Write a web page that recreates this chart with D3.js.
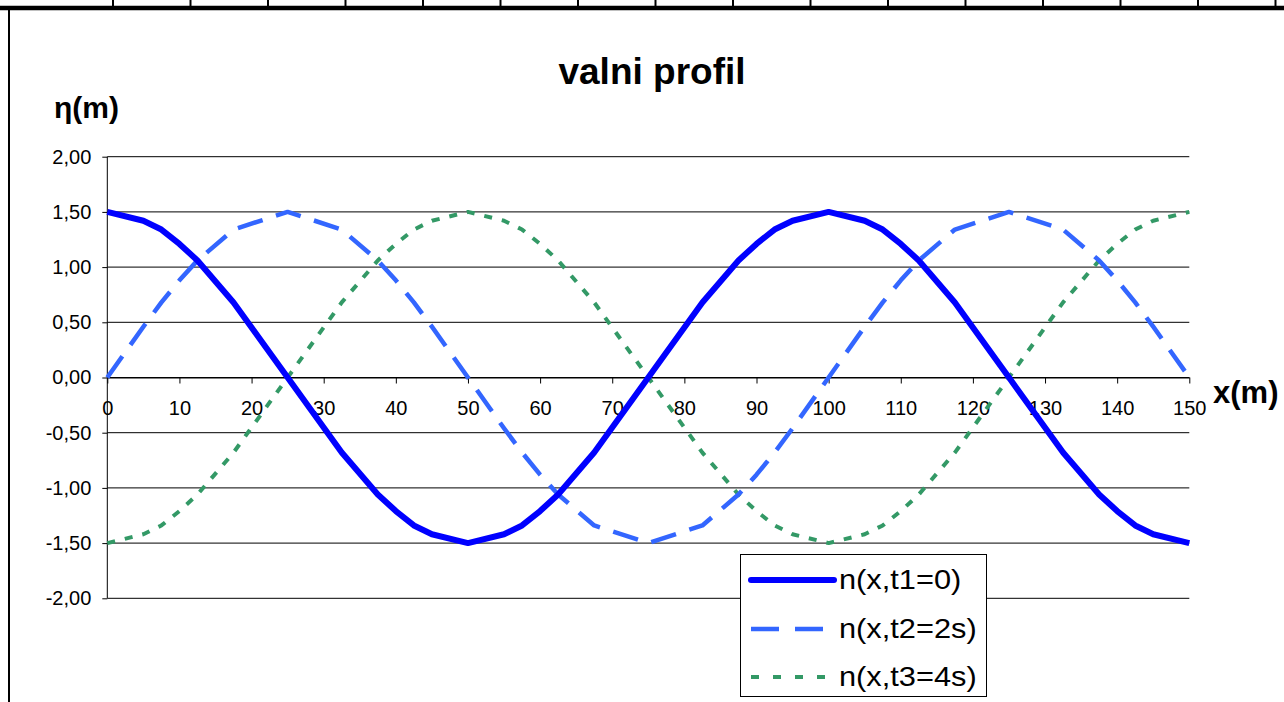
<!DOCTYPE html>
<html>
<head>
<meta charset="utf-8">
<script src="https://cdn.jsdelivr.net/npm/d3@7"></script>
<style>
  body { margin: 0; background: #fff; }
  text { font-family: Arial, "Liberation Sans", sans-serif; }
</style>
</head>
<body>
<div class="chart"></div>
<script>
var svgWidth = 1284;
var svgHeight = 702;

// x positions (m) of the table rows
var xValues = [0, 5, 7.5, 10, 12.5, 17.5, 25, 32.5, 37.5, 40, 42.5, 45, 50,
    55, 57.5, 60, 62.5, 67.5, 75, 82.5, 87.5, 90, 92.5, 95, 100,
    105, 107.5, 110, 112.5, 117.5, 125, 132.5, 137.5, 140, 142.5, 145, 150];

// n(x,t1=0)
var etaT1 = [1.50, 1.42, 1.34, 1.21, 1.06, 0.68, 0.00, -0.68, -1.06, -1.21, -1.34, -1.42, -1.50,
    -1.42, -1.34, -1.21, -1.06, -0.68, 0.00, 0.68, 1.06, 1.21, 1.34, 1.42, 1.50,
    1.42, 1.34, 1.21, 1.06, 0.68, 0.00, -0.68, -1.06, -1.21, -1.34, -1.42, -1.50];

// n(x,t2=2s)
var etaT2 = [0.00, 0.46, 0.68, 0.88, 1.06, 1.34, 1.50, 1.34, 1.06, 0.88, 0.68, 0.46, 0.00,
    -0.46, -0.68, -0.88, -1.06, -1.34, -1.50, -1.34, -1.06, -0.88, -0.68, -0.46, 0.00,
    0.46, 0.68, 0.88, 1.06, 1.34, 1.50, 1.34, 1.06, 0.88, 0.68, 0.46, 0.00];

// n(x,t3=4s)
var etaT3 = [-1.50, -1.42, -1.34, -1.21, -1.06, -0.68, 0.00, 0.68, 1.06, 1.21, 1.34, 1.42, 1.50,
    1.42, 1.34, 1.21, 1.06, 0.68, 0.00, -0.68, -1.06, -1.21, -1.34, -1.42, -1.50,
    -1.42, -1.34, -1.21, -1.06, -0.68, 0.00, 0.68, 1.06, 1.21, 1.34, 1.42, 1.50];

var seriesNames = ["n(x,t1=0)", "n(x,t2=2s)", "n(x,t3=4s)"];
var xTicks = [0, 10, 20, 30, 40, 50, 60, 70, 80, 90, 100, 110, 120, 130, 140, 150];
var yTicks = [2, 1.5, 1, 0.5, 0, -0.5, -1, -1.5, -2];

var styles = [
    { color: "#0000ff", width: 6, dash: null, legendDash: null },
    { color: "#3366ff", width: 4.5, dash: "26,14", legendDash: "28,16" },
    { color: "#339966", width: 4, dash: "8,10", legendDash: "8,14" }
];

var svg = d3.select(".chart")
    .append("svg")
    .attr("width", svgWidth)
    .attr("height", svgHeight);

svg.append("rect")
    .attr("width", svgWidth)
    .attr("height", svgHeight)
    .attr("fill", "#fff");

// spreadsheet cell borders above the chart
var cellLines = d3.range(113, svgWidth + 1, 77.5);
svg.selectAll(".cell")
    .data(cellLines)
    .enter()
    .append("line")
    .attr("x1", d => d).attr("x2", d => d)
    .attr("y1", 0).attr("y2", 8)
    .attr("stroke", "#000")
    .attr("stroke-width", 2);

svg.append("line")
    .attr("x1", 0).attr("x2", svgWidth)
    .attr("y1", 8).attr("y2", 8)
    .attr("stroke", "#000")
    .attr("stroke-width", 4.5);

svg.append("line")
    .attr("x1", 9).attr("x2", 9)
    .attr("y1", 10).attr("y2", svgHeight)
    .attr("stroke", "#000")
    .attr("stroke-width", 2);

var xScale = d3.scaleLinear().domain([0, 150]).range([107.3, 1189.3]);
var yScale = d3.scaleLinear().domain([-2, 2]).range([598.3, 156.7]);

// gridlines
svg.selectAll(".grid")
    .data(yTicks)
    .enter()
    .append("line")
    .attr("x1", xScale(0)).attr("x2", xScale(150))
    .attr("y1", d => yScale(d)).attr("y2", d => yScale(d))
    .attr("stroke", "#000")
    .attr("stroke-width", 1);

// y axis
var leftAxis = d3.axisLeft(yScale)
    .tickValues(yTicks)
    .tickSize(5)
    .tickPadding(11)
    .tickFormat(d => d3.format(".2f")(d).replace(".", ",").replace("−", "-"));

var yAxis = svg.append("g")
    .attr("transform", `translate(${xScale(0)},0)`)
    .call(leftAxis);
yAxis.select(".domain").attr("stroke", "#000").attr("d", `M0,${yScale(2)}V${yScale(-2)}`);
yAxis.selectAll("text")
    .attr("font-size", 20)
    .attr("fill", "#000")
    .attr("font-family", "Arial, 'Liberation Sans', sans-serif");

// x axis crossing at 0
var bottomAxis = d3.axisBottom(xScale)
    .tickValues(xTicks)
    .tickSize(6)
    .tickSizeOuter(0)
    .tickPadding(17)
    .tickFormat(d3.format("d"));

var xAxis = svg.append("g")
    .attr("transform", `translate(0,${yScale(0)})`)
    .call(bottomAxis);
xAxis.select(".domain").attr("stroke", "#000");
xAxis.selectAll("text")
    .attr("font-size", 20)
    .attr("fill", "#000")
    .attr("font-family", "Arial, 'Liberation Sans', sans-serif");

// series
var allSeries = [etaT1, etaT2, etaT3];
var line = d3.line()
    .x((d, i) => xScale(xValues[i]))
    .y(d => yScale(d));

// draw green first, then blue dashed, solid on top
[2, 1, 0].forEach(function (k) {
    svg.append("path")
        .datum(allSeries[k])
        .attr("fill", "none")
        .attr("stroke", styles[k].color)
        .attr("stroke-width", styles[k].width)
        .attr("stroke-dasharray", styles[k].dash)
        .attr("stroke-linejoin", "round")
        .attr("d", line);
});

// title and axis titles
svg.append("text")
    .attr("x", 652)
    .attr("y", 84)
    .attr("text-anchor", "middle")
    .attr("font-size", 37)
    .attr("font-weight", "bold")
    .text("valni profil");

svg.append("text")
    .attr("x", 54)
    .attr("y", 118)
    .attr("font-size", 30)
    .attr("font-weight", "bold")
    .text("η(m)");

svg.append("text")
    .attr("x", 1213)
    .attr("y", 403)
    .attr("font-size", 31)
    .attr("font-weight", "bold")
    .text("x(m)");

// legend
var legend = svg.append("g");
legend.append("rect")
    .attr("x", 740.5).attr("y", 554.5)
    .attr("width", 246).attr("height", 142)
    .attr("fill", "#fff")
    .attr("stroke", "#000")
    .attr("stroke-width", 1);

var rowY = [580, 629, 677];
seriesNames.forEach(function (name, k) {
    legend.append("line")
        .attr("x1", 751).attr("x2", 834)
        .attr("y1", rowY[k]).attr("y2", rowY[k])
        .attr("stroke", styles[k].color)
        .attr("stroke-width", styles[k].width)
        .attr("stroke-dasharray", styles[k].legendDash)
        .attr("stroke-linecap", k === 0 ? "round" : "butt");
    legend.append("text")
        .attr("transform", `translate(839,${rowY[k] + 9}) scale(1.14,1)`)
        .attr("font-size", 27)
        .text(name);
});
</script>
</body>
</html>
